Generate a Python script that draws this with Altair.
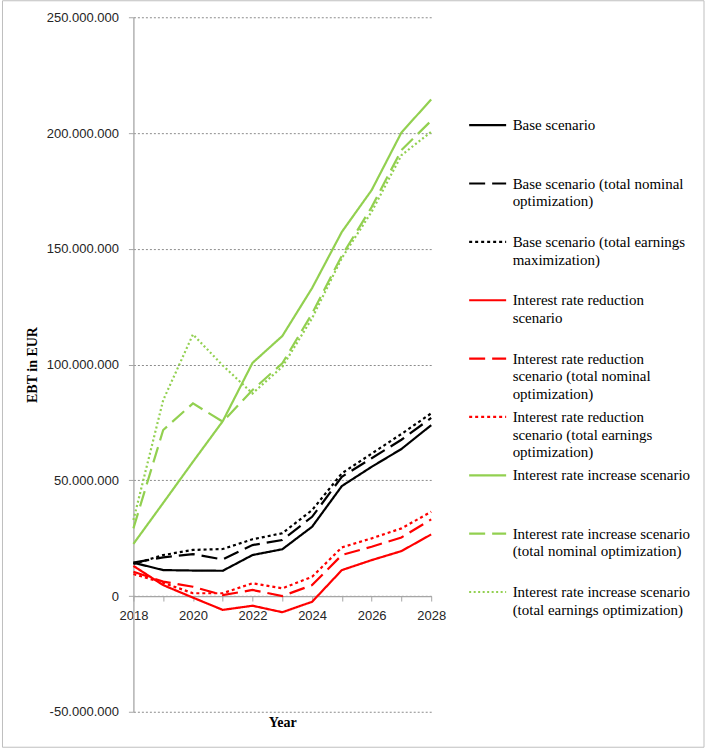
import altair as alt
import pandas as pd

# ---------------- data (values in million EUR) ----------------
years = [2018, 2019, 2020, 2021, 2022, 2023, 2024, 2025, 2026, 2027, 2028]

base = [14.4, 11.2, 11.0, 10.9, 17.7, 20.2, 29.9, 47.5, 55.8, 63.5, 73.8]
base_nom = [14.4, 16.7, 18.1, 15.8, 22.0, 24.2, 34.2, 51.5, 59.5, 67.5, 76.9]
base_earn = [13.8, 17.7, 19.9, 20.3, 24.5, 27.1, 37.1, 53.0, 61.5, 70.0, 78.9]
red = [13.0, 4.7, -0.7, -6.0, -4.2, -7.0, -2.5, 11.2, 15.5, 19.4, 26.6]
red_nom = [10.5, 6.2, 4.0, 0.4, 2.6, 0.0, 4.7, 17.7, 21.3, 25.3, 33.1]
red_earn = [9.5, 5.7, 1.2, 1.2, 5.5, 3.3, 8.3, 21.0, 24.9, 29.2, 36.4]
green = [22.5, 40.2, 58.0, 75.5, 100.7, 112.3, 133.0, 157.3, 175.3, 200.2, 214.5]
green_nom = [29.2, 71.7, 83.2, 75.3, 89.0, 100.5, 122.0, 147.0, 168.0, 192.6, 205.3]
green_earn = [32.8, 84.6, 113.0, 99.6, 87.5, 99.0, 120.0, 146.0, 166.0, 190.4, 200.5]

series_names = [
    "Base scenario",
    "Base scenario (total nominal optimization)",
    "Base scenario (total earnings maximization)",
    "Interest rate reduction scenario",
    "Interest rate reduction scenario (total nominal optimization)",
    "Interest rate reduction scenario (total earnings optimization)",
    "Interest rate increase scenario",
    "Interest rate increase scenario (total nominal optimization)",
    "Interest rate increase scenario (total earnings optimization)",
]
legend_labels = [
    "Base scenario",
    "Base scenario (total nominal\noptimization)",
    "Base scenario (total earnings\nmaximization)",
    "Interest rate reduction\nscenario",
    "Interest rate reduction\nscenario (total nominal\noptimization)",
    "Interest rate reduction\nscenario (total earnings\noptimization)",
    "Interest rate increase scenario",
    "Interest rate increase scenario\n(total nominal optimization)",
    "Interest rate increase scenario\n(total earnings optimization)",
]
all_values = [base, base_nom, base_earn, red, red_nom, red_earn, green, green_nom, green_earn]

y_ticks = [-50e6, 0, 50e6, 100e6, 150e6, 200e6, 250e6]

# ---------------- styles ----------------
colors = ["#000000", "#000000", "#000000",
          "#ff0000", "#ff0000", "#ff0000",
          "#92d050", "#92d050", "#92d050"]
dashes = [[1, 0], [16, 7], [3, 3],
          [1, 0], [16, 7], [3, 3],
          [1, 0], [16, 7], [2, 2.5]]
widths = [2.2, 2.2, 3, 2.2, 2.2, 3, 2.4, 2.4, 1.8]

rows = []
for name, vals in zip(series_names, all_values):
    for yr, v in zip(years, vals):
        rows.append({"series": name, "year": yr, "ebt": v * 1e6})
df = pd.DataFrame(rows)

legend_df = pd.DataFrame({
    "series": series_names,
    "label": legend_labels,
    "pos": list(range(len(series_names))),
})

color_enc = alt.Color("series:N", scale=alt.Scale(domain=series_names, range=colors), legend=None)
dash_enc = alt.StrokeDash("series:N", scale=alt.Scale(domain=series_names, range=dashes), legend=None)
width_enc = alt.StrokeWidth("series:N", scale=alt.Scale(domain=series_names, range=widths), legend=None)

W, H = 298, 695

lines = alt.Chart(df).mark_line(clip=False).encode(
    x=alt.X(
        "year:Q",
        scale=alt.Scale(domain=[2018, 2028], nice=False, zero=False),
        axis=alt.Axis(
            values=years,
            format="d",
            labelExpr="datum.value % 2 == 0 ? datum.label : ''",
            grid=False,
            offset=-115.8,
            tickSize=5,
            labelPadding=8,
            labelFont="Liberation Sans",
            labelFontSize=13,
            labelColor="#262626",
            labelFlush=False,
            domainColor="#a6a6a6",
            domainWidth=1.3,
            tickColor="#a6a6a6",
            title="Year",
            titleFont="Liberation Serif",
            titleFontSize=14,
            titleFontWeight="bold",
            titleColor="#000000",
            titleBaseline="middle",
            titleY=127,
        ),
    ),
    y=alt.Y(
        "ebt:Q",
        scale=alt.Scale(domain=[-50e6, 250e6], nice=False, zero=False),
        axis=alt.Axis(
            values=y_ticks,
            labelExpr="replace(replace(format(datum.value, ','), /,/g, '.'), '\u2212', '-')",
            grid=True,
            gridColor="#8c8c8c",
            gridDash=[2, 2],
            gridWidth=1,
            tickSize=5,
            labelPadding=10,
            labelFont="Liberation Sans",
            labelFontSize=13,
            labelColor="#262626",
            domainColor="#a6a6a6",
            domainWidth=1.3,
            tickColor="#a6a6a6",
            title="EBT in EUR",
            titleFont="Liberation Serif",
            titleFontSize=14,
            titleFontWeight="bold",
            titleColor="#000000",
            titleAngle=270,
            titleAlign="center",
            titleBaseline="middle",
            titleX=-101,
            titleY=347.5,
        ),
    ),
    color=color_enc,
    strokeDash=dash_enc,
    strokeWidth=width_enc,
    detail="series:N",
)

frame = alt.Chart(pd.DataFrame({"f": [0]})).mark_rect(
    fillOpacity=0, stroke="#bfbfbf", strokeWidth=1
).encode(
    x=alt.value(-131), x2=alt.value(571), y=alt.value(-16.5), y2=alt.value(730.5)
)

main = alt.layer(frame, lines).properties(width=W, height=H)

leg_y = alt.Y("pos:Q", scale=alt.Scale(domain=[-1.849, 10.052], reverse=True, nice=False, zero=False), axis=None)

leg_rules = alt.Chart(legend_df).mark_rule().encode(
    x=alt.value(0), x2=alt.value(37), y=leg_y,
    color=color_enc, strokeDash=dash_enc, strokeWidth=width_enc,
)
leg_text = alt.Chart(legend_df).mark_text(
    align="left", baseline="alphabetic", dy=5, lineBreak="\n",
    font="Liberation Serif", fontSize=15, lineHeight=17.7, color="#000000",
).encode(x=alt.value(43.5), y=leg_y, text="label:N")

legend = alt.layer(leg_rules, leg_text).properties(width=225, height=H)

chart = alt.hconcat(main, legend, spacing=38, bounds="flush").properties(
    padding={"left": 1.5, "top": 0, "right": 0, "bottom": 0},
    background="white",
).configure_view(stroke=None)

chart.save("out.html", embed_options={"renderer": "svg", "actions": False})
